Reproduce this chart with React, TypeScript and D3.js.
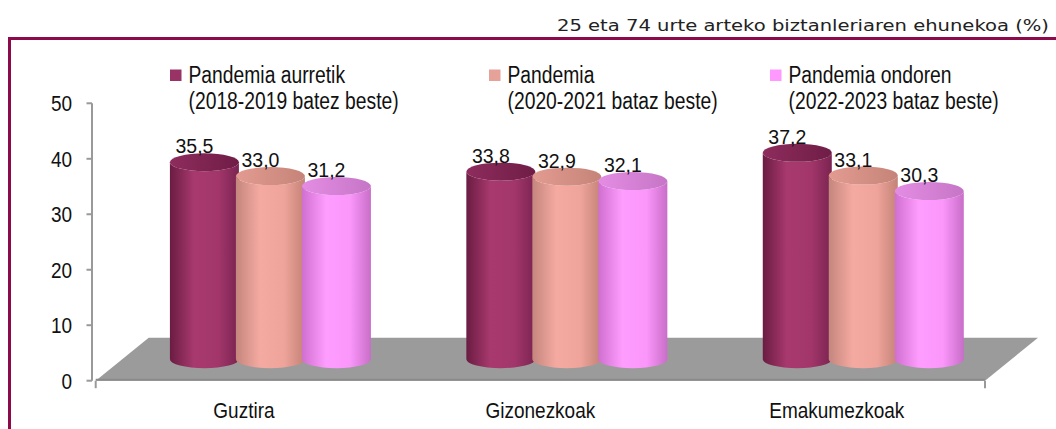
import React from "react";
import * as d3 from "d3";

const categories = ["Guztira", "Gizonezkoak", "Emakumezkoak"];
const seriesNames = ["pre", "pandemic", "post"];
const legendLine1 = ["Pandemia aurretik", "Pandemia", "Pandemia ondoren"];
const legendLine2 = ["(2018-2019 batez beste)", "(2020-2021 bataz beste)", "(2022-2023 bataz beste)"];
const preValues = [35.5, 33.8, 37.2];
const pandemicValues = [33.0, 32.9, 33.1];
const postValues = [31.2, 32.1, 30.3];
const yTicks = [0, 10, 20, 30, 40, 50];
const title = "25 eta 74 urte arteko biztanleriaren ehunekoa (%)";

const seriesValues = [preValues, pandemicValues, postValues];

const palettes = [
  { legend: "#993366", body: ["#6a1c42", "#a8396e", "#a2366b", "#7a2450"], top: ["#8e2c5d", "#6f1d46"] },
  { legend: "#e6a299", body: ["#c4867d", "#f5aaa1", "#eea49a", "#c48277"], top: ["#e39b90", "#c58479"] },
  { legend: "#ff99ff", body: ["#cf6fcf", "#ff9dff", "#fb96fb", "#c86ec8"], top: ["#e48ce4", "#c676c6"] },
];

const FONT = "'Liberation Sans', Arial, sans-serif";

export default function App() {
  const x = d3.scaleBand<string>().domain(categories).range([95.7, 985]).padding(0);
  const s = d3.scaleBand<string>().domain(seriesNames).range([-99, 99]).padding(0);
  const y = d3.scaleLinear().domain([0, 50]).range([380.7, 103.3]);
  const depthX = 53;
  const depthY = -43;
  const bx = depthX / 2;
  const by = depthY / 2;
  const rx = 34.5;
  const ry = 9;

  const y0 = y(0);
  const floor = [
    [x.range()[0], y0],
    [x.range()[1], y0],
    [x.range()[1] + depthX, y0 + depthY],
    [x.range()[0] + depthX, y0 + depthY],
  ];

  const bars: any[] = [];
  categories.forEach((c, ci) => {
    seriesNames.forEach((sn, si) => {
      const v = seriesValues[si][ci];
      const cx = (x(c) as number) + x.bandwidth() / 2 + bx + (s(sn) as number) + s.bandwidth() / 2;
      const topY = y(v) + by;
      const baseY = y0 + by;
      bars.push({ ci, si, v, cx, topY, baseY });
    });
  });

  const txt = (
    key: string,
    tx: number,
    ty: number,
    content: string,
    anchor: string,
    size = 19,
    stretch = 1.15
  ) => (
    <text
      key={key}
      transform={`translate(${tx},${ty}) scale(1,${stretch})`}
      textAnchor={anchor}
      fontFamily={FONT}
      fontSize={size}
      fill="#111"
    >
      {content}
    </text>
  );

  return (
    <div style={{ position: "absolute", left: 0, top: 0 }}>
      <svg width={1056} height={429} style={{ display: "block" }}>
        <defs>
          {palettes.map((p, i) => (
            <React.Fragment key={i}>
              <linearGradient id={`body${i}`} x1="0" x2="1" y1="0" y2="0">
                <stop offset="0%" stopColor={p.body[0]} />
                <stop offset="35%" stopColor={p.body[1]} />
                <stop offset="70%" stopColor={p.body[2]} />
                <stop offset="100%" stopColor={p.body[3]} />
              </linearGradient>
              <linearGradient id={`top${i}`} x1="0" x2="1" y1="0" y2="0">
                <stop offset="0%" stopColor={p.top[0]} />
                <stop offset="100%" stopColor={p.top[1]} />
              </linearGradient>
            </React.Fragment>
          ))}
        </defs>
        <rect x={0} y={0} width={1056} height={429} fill="#fff" />

        {/* Title */}
        <text
          x={1049}
          y={31}
          textAnchor="end"
          fontFamily="'DejaVu Sans', sans-serif"
          fontSize={16}
          fill="#222"
          textLength={492}
          lengthAdjust="spacingAndGlyphs"
        >
          {title}
        </text>

        {/* Maroon frame */}
        <line x1={8} x2={1056} y1={38.5} y2={38.5} stroke="#8c0a4a" strokeWidth={3} />
        <line x1={9.5} x2={9.5} y1={37} y2={429} stroke="#8c0a4a" strokeWidth={3} />

        {/* Floor */}
        <polygon points={floor.map((p) => p.join(",")).join(" ")} fill="#9b9b9b" />
        <line x1={floor[0][0]} x2={floor[1][0]} y1={y0 - 1} y2={y0 - 1} stroke="#8a8a8a" strokeWidth={2} />

        {/* Value axis */}
        <line x1={92} x2={92} y1={y(50)} y2={y(0)} stroke="#999" strokeWidth={2} />
        {yTicks.map((t) => (
          <g key={t}>
            <line x1={86.5} x2={92} y1={y(t)} y2={y(t)} stroke="#999" strokeWidth={2} />
            {txt(`yt${t}`, 72, y(t) + 8, String(t), "end", 19, 1.12)}
          </g>
        ))}

        {/* Category axis end ticks */}
        <line x1={x.range()[0]} x2={x.range()[0]} y1={y0} y2={y0 + 7.5} stroke="#999" strokeWidth={2} />
        <line x1={x.range()[1]} x2={x.range()[1]} y1={y0} y2={y0 + 7.5} stroke="#999" strokeWidth={2} />

        {/* Bars */}
        {bars.map((b) => {
          const l = b.cx - rx;
          const r = b.cx + rx;
          const d = `M${l},${b.topY} L${l},${b.baseY} A${rx},${ry} 0 0 0 ${r},${b.baseY} L${r},${b.topY} A${rx},${ry} 0 0 1 ${l},${b.topY} Z`;
          return (
            <g key={`bar${b.ci}-${b.si}`}>
              <path d={d} fill={`url(#body${b.si})`} />
              <ellipse cx={b.cx} cy={b.topY} rx={rx} ry={ry} fill={`url(#top${b.si})`} />
            </g>
          );
        })}

        {/* Value labels */}
        {bars.map((b) =>
          txt(`vl${b.ci}-${b.si}`, b.cx - 10, b.topY - ry, b.v.toFixed(1).replace(".", ","), "middle", 19.5, 1.08)
        )}

        {/* Category labels */}
        {categories.map((c) =>
          txt(`cl${c}`, (x(c) as number) + x.bandwidth() / 2, 418, c, "middle", 19, 1.2)
        )}

        {/* Legend */}
        {[170, 489, 770].map((lx, i) => (
          <g key={`lg${i}`}>
            <rect x={lx} y={69.5} width={11.5} height={11.5} fill={palettes[i].legend} />
            {txt(`lg1${i}`, lx + 18.5, 83, legendLine1[i], "start", 19.3, 1.22)}
            {txt(`lg2${i}`, lx + 18.5, 108.5, legendLine2[i], "start", 19.3, 1.22)}
          </g>
        ))}
      </svg>
    </div>
  );
}
